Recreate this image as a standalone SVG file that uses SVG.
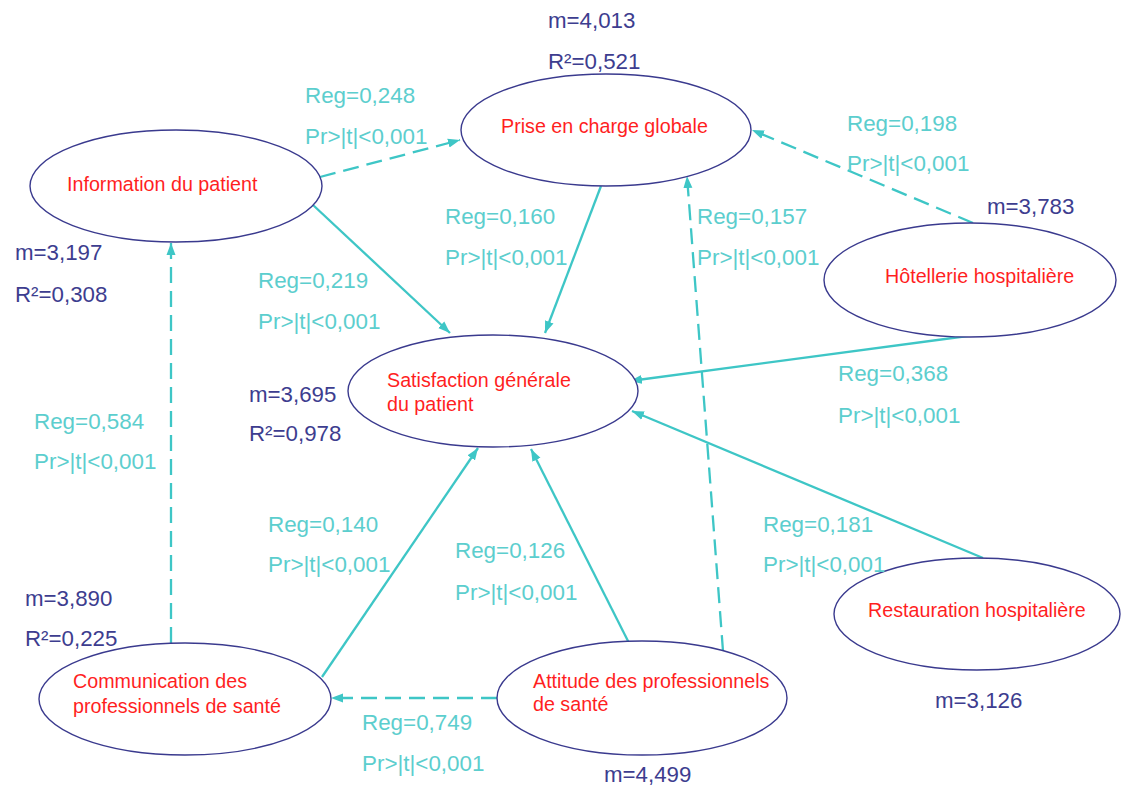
<svg xmlns="http://www.w3.org/2000/svg" width="1122" height="787" viewBox="0 0 1122 787">
<defs>
<style>
.node{fill:#ffffff;stroke:#3a3a8e;stroke-width:1.4}
.lbl{font-family:"Liberation Sans",Arial,sans-serif;font-size:19.7px;fill:#ff1f1f}
.stat{font-family:"Liberation Sans",Arial,sans-serif;font-size:22.3px;fill:#3d3d8f}
.reg{font-family:"Liberation Sans",Arial,sans-serif;font-size:22.4px;fill:#5ccece}
.edge{fill:none;stroke:#3ec6c6;stroke-width:2.3}
.dash{stroke-dasharray:16 8}
</style>
<marker id="ah" viewBox="0 0 12 10" refX="12" refY="5" markerWidth="12" markerHeight="10" markerUnits="userSpaceOnUse" orient="auto">
<path d="M0,0.5 L12,5 L0,9.5 z" fill="#3ec6c6"/>
</marker>
</defs>
<rect width="1122" height="787" fill="#ffffff"/>

<g id="connectors">
<line class="edge dash" x1="320" y1="177" x2="460" y2="140" marker-end="url(#ah)"/>
<line class="edge" x1="313" y1="205" x2="450" y2="333" marker-end="url(#ah)"/>
<line class="edge" x1="601" y1="186" x2="545" y2="333" marker-end="url(#ah)"/>
<line class="edge dash" x1="723" y1="651" x2="687" y2="176" marker-end="url(#ah)"/>
<line class="edge dash" x1="973" y1="223" x2="752" y2="130" marker-end="url(#ah)"/>
<line class="edge" x1="975" y1="335" x2="630" y2="381" marker-end="url(#ah)"/>
<line class="edge" x1="983" y1="558" x2="632" y2="411" marker-end="url(#ah)"/>
<line class="edge" x1="629" y1="643" x2="531" y2="449" marker-end="url(#ah)"/>
<line class="edge" x1="322" y1="677" x2="478" y2="448" marker-end="url(#ah)"/>
<line class="edge dash" x1="171" y1="643" x2="171" y2="243" marker-end="url(#ah)"/>
<line class="edge dash" x1="497" y1="698" x2="331" y2="698" marker-end="url(#ah)"/>
</g>

<g id="prise">
<ellipse class="node" cx="606" cy="130" rx="145" ry="56"/>
<text class="lbl" x="501" y="133">Prise en charge globale</text>
<text class="stat" x="548" y="28">m=4,013</text>
<text class="stat" x="548" y="69">R²=0,521</text>
</g>

<g id="information">
<ellipse class="node" cx="176" cy="186" rx="146" ry="56"/>
<text class="lbl" x="67" y="191">Information du patient</text>
<text class="stat" x="15" y="260">m=3,197</text>
<text class="stat" x="15" y="302">R²=0,308</text>
</g>

<g id="hotellerie">
<ellipse class="node" cx="970" cy="280" rx="146" ry="57"/>
<text class="lbl" x="885" y="283">Hôtellerie hospitalière</text>
<text class="stat" x="987" y="214">m=3,783</text>
</g>

<g id="satisfaction">
<ellipse class="node" cx="493" cy="391" rx="145" ry="56"/>
<text class="lbl" x="387" y="387">Satisfaction générale</text>
<text class="lbl" x="387" y="411">du patient</text>
<text class="stat" x="249" y="402">m=3,695</text>
<text class="stat" x="249" y="441">R²=0,978</text>
</g>

<g id="restauration">
<ellipse class="node" cx="977" cy="614" rx="143" ry="56"/>
<text class="lbl" x="868" y="617">Restauration hospitalière</text>
<text class="stat" x="935" y="708">m=3,126</text>
</g>

<g id="communication">
<ellipse class="node" cx="185" cy="699" rx="146" ry="56"/>
<text class="lbl" x="73" y="688">Communication des</text>
<text class="lbl" x="73" y="713">professionnels de santé</text>
<text class="stat" x="25" y="606">m=3,890</text>
<text class="stat" x="25" y="646">R²=0,225</text>
</g>

<g id="attitude">
<ellipse class="node" cx="642" cy="698" rx="145" ry="57"/>
<text class="lbl" x="533" y="688">Attitude des professionnels</text>
<text class="lbl" x="533" y="711">de santé</text>
<text class="stat" x="604" y="782">m=4,499</text>
</g>

<g id="edge-labels">
<text class="reg" x="305" y="103">Reg=0,248</text>
<text class="reg" x="305" y="144">Pr&gt;|t|&lt;0,001</text>
<text class="reg" x="847" y="131">Reg=0,198</text>
<text class="reg" x="847" y="171">Pr&gt;|t|&lt;0,001</text>
<text class="reg" x="445" y="224">Reg=0,160</text>
<text class="reg" x="445" y="265">Pr&gt;|t|&lt;0,001</text>
<text class="reg" x="697" y="224">Reg=0,157</text>
<text class="reg" x="697" y="265">Pr&gt;|t|&lt;0,001</text>
<text class="reg" x="258" y="288">Reg=0,219</text>
<text class="reg" x="258" y="329">Pr&gt;|t|&lt;0,001</text>
<text class="reg" x="838" y="381">Reg=0,368</text>
<text class="reg" x="838" y="423">Pr&gt;|t|&lt;0,001</text>
<text class="reg" x="34" y="429">Reg=0,584</text>
<text class="reg" x="34" y="469">Pr&gt;|t|&lt;0,001</text>
<text class="reg" x="268" y="532">Reg=0,140</text>
<text class="reg" x="268" y="572">Pr&gt;|t|&lt;0,001</text>
<text class="reg" x="455" y="558">Reg=0,126</text>
<text class="reg" x="455" y="600">Pr&gt;|t|&lt;0,001</text>
<text class="reg" x="763" y="532">Reg=0,181</text>
<text class="reg" x="763" y="572">Pr&gt;|t|&lt;0,001</text>
<text class="reg" x="362" y="730">Reg=0,749</text>
<text class="reg" x="362" y="771">Pr&gt;|t|&lt;0,001</text>
</g>
</svg>
